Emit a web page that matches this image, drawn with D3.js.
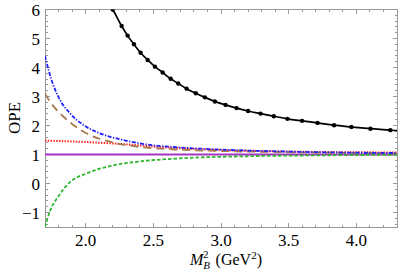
<html>
<head>
<meta charset="UTF-8"/>
<script src="https://d3js.org/d3.v7.min.js"></script>
<style>
body { margin:0; background:#fff; }
svg text { font-family: 'Liberation Serif', 'Times New Roman', 'DejaVu Serif', serif; }
.frame line, .frame path { stroke:#999; shape-rendering: crispEdges; }
</style>
</head>
<body>
<svg id='big' width=399 height=274 font-family="Liberation Serif, serif"></svg>
<script>
'use strict';

// values: [M_B^2, OPE]
var blackPts = [[2.200,6.00],[2.266,5.43],[2.310,5.10],[2.357,4.80],[2.406,4.51],
	[2.458,4.26],[2.512,4.03],[2.569,3.83],[2.628,3.61],[2.684,3.45],[2.746,3.27],
	[2.814,3.11],[2.881,2.97],[2.955,2.83],[3.034,2.71],[3.115,2.60],[3.200,2.50],
	[3.292,2.41],[3.390,2.32],[3.491,2.23],[3.599,2.16],[3.713,2.09],[3.835,2.01],
	[3.963,1.95],[4.104,1.89],[4.251,1.84]];
var blackEnd = [[2.17,6.2],[4.30,1.82]];
var blue = [[1.70,4.40],[1.73,3.85],[1.761,3.40],[1.811,2.88],[1.885,2.42],[1.983,2.02],
	[2.106,1.73],[2.278,1.50],[2.475,1.33],[2.672,1.25],[3.0,1.17],[3.5,1.10],[4.3,1.05]];
var brown = [[1.70,3.10],[1.737,2.82],[1.811,2.42],[1.909,2.02],[2.032,1.67],[2.18,1.44],
	[2.352,1.29],[2.524,1.21],[2.672,1.17],[3.0,1.12],[3.5,1.08],[4.3,1.04]];
var red = [[1.70,1.48],[2.0,1.43],[2.3,1.35],[2.6,1.24],[3.0,1.15],[3.5,1.10],[4.3,1.07]];
var purple = [[1.70,1.0],[4.30,1.0]];
var green = [[1.70,-1.50],[1.737,-0.95],[1.798,-0.45],[1.885,0.05],[2.008,0.35],[2.18,0.60],
	[2.40,0.76],[2.67,0.86],[3.2,0.94],[3.7,0.97],[4.3,0.99]];
var xTicks = [2.0,2.5,3.0,3.5,4.0];
var yTicks = [-1,0,1,2,3,4,5,6];

var svg = d3.select('#big');
var L = 45, R = 397, T = 9.5, B = 227;

var sx = d3.scaleLinear().domain([1.7,4.3]).range([L,R]);
var sy = d3.scaleLinear().domain([-1.5,6]).range([B,T]);

svg.append('clipPath').attr('id','clip')
.append('rect').attr('x',L).attr('y',T).attr('width',R-L).attr('height',B-T);

var frame = svg.append('g').attr('class','frame');
frame.append('rect').attr('x',L).attr('y',T).attr('width',R-L).attr('height',B-T)
.attr('fill','none').attr('stroke','#999').attr('shape-rendering','crispEdges');

var xMinor = d3.range(17,44).map(function(d){return d/10;});
var yMinor = d3.range(-7,31).map(function(d){return d/5;});

function tickLines(vals, isX, len){
	vals.forEach(function(v){
		if (isX){
			var x = sx(v);
			frame.append('line').attr('x1',x).attr('x2',x).attr('y1',B).attr('y2',B-len);
			frame.append('line').attr('x1',x).attr('x2',x).attr('y1',T).attr('y2',T+len);
		} else {
			var y = sy(v);
			frame.append('line').attr('x1',L).attr('x2',L+len).attr('y1',y).attr('y2',y);
			frame.append('line').attr('x1',R).attr('x2',R-len).attr('y1',y).attr('y2',y);
		}
	});
}
tickLines(xMinor, true, 2.5);
tickLines(xTicks, true, 4.5);
tickLines(yMinor, false, 2.5);
tickLines(yTicks, false, 4.5);

svg.selectAll('.xl').data(xTicks).enter().append('text')
.attr('x', function(d){return sx(d);}).attr('y', B+19)
.attr('text-anchor','middle').attr('font-size',17)
.text(function(d){return d.toFixed(1);});

svg.selectAll('.yl').data(yTicks).enter().append('text')
.attr('x', L-5).attr('y', function(d){return sy(d)+6;})
.attr('text-anchor','end').attr('font-size',17)
.text(function(d){return d < 0 ? '\u2212' + Math.abs(d) : d;});

svg.append('text').attr('transform','translate(20,118) rotate(-90)')
.attr('text-anchor','middle').attr('font-size',17).text('OPE');

var xl = svg.append('text').attr('x',226).attr('y',265).attr('text-anchor','middle').attr('font-size',16);
xl.append('tspan').attr('font-style','italic').text('M');
xl.append('tspan').attr('font-style','italic').attr('font-size',11).attr('dy',4).attr('dx',0).text('B');
xl.append('tspan').attr('font-size',11).attr('dy',-11).attr('dx',-7).text('2');
xl.append('tspan').attr('dy',7).attr('dx',3).text(' (GeV');
xl.append('tspan').attr('font-size',11).attr('dy',-6).text('2');
xl.append('tspan').attr('dy',6).text(')');

var line = d3.line().curve(d3.curveMonotoneX)
.x(function(d){return sx(d[0]);}).y(function(d){return sy(d[1]);});

var plot = svg.append('g').attr('clip-path','url(#clip)');

function draw(data, color, dash, w){
	plot.append('path').datum(data).attr('d', line)
	.attr('fill','none').attr('stroke',color).attr('stroke-width',w)
	.attr('stroke-dasharray',dash);
}
draw(purple, '#a534c4', null, 2);
draw(green, '#2fb52f', '3.5,2', 1.8);
draw(red, '#ff2a2a', '1.5,1.3', 2);
draw(brown, '#a57a4e', '8,5', 1.8);
draw(blue, '#2020ff', '4,1.5,1.3,1.5', 1.8);

var blackAll = [blackEnd[0]].concat(blackPts).concat([blackEnd[1]]);
draw(blackAll, '#000', null, 1.7);
plot.selectAll('.mk').data(blackPts).enter().append('circle')
.attr('cx', function(d){return sx(d[0]);}).attr('cy', function(d){return sy(d[1]);})
.attr('r', 2.2).attr('fill','#000');
</script>
</body>
</html>
